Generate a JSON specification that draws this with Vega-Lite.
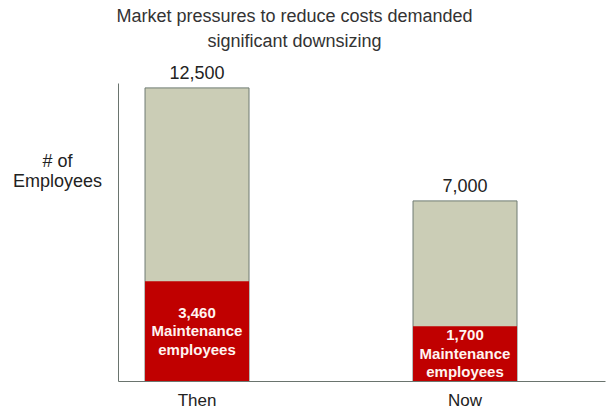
{
  "$schema": "https://vega.github.io/schema/vega-lite/v6.json",
  "width": 487,
  "height": 298,
  "autosize": {"type": "none"},
  "padding": {"left": 118, "top": 83, "right": 4, "bottom": 30},
  "background": "white",
  "config": {"font": "Liberation Sans", "view": {"stroke": null}},
  "title": {
    "text": ["Market pressures to reduce costs demanded", "significant downsizing"],
    "fontSize": 18,
    "fontWeight": "normal",
    "color": "#333333",
    "lineHeight": 25,
    "anchor": "middle",
    "dx": -67,
    "offset": 14
  },
  "data": {
    "values": [
      {"period": "Then", "total": 12500, "maintenance": 3460, "maintLabel": ["3,460", "Maintenance", "employees"]},
      {"period": "Now", "total": 7000, "maintenance": 1700, "maintLabel": ["1,700", "Maintenance", "employees"]}
    ]
  },
  "encoding": {
    "x": {
      "field": "period",
      "type": "nominal",
      "sort": ["Then", "Now"],
      "scale": {"paddingInner": 0.612, "paddingOuter": 0.2146, "align": 0.235},
      "axis": {
        "title": null,
        "ticks": false,
        "labelAngle": 0,
        "labelFontSize": 17,
        "labelColor": "#222222",
        "labelPadding": 11,
        "domainColor": "#6a746e"
      }
    }
  },
  "layer": [
    {
      "layer": [
        {
          "mark": {"type": "bar", "color": "#cbcdb6", "stroke": "#6f7b72", "strokeWidth": 1},
          "encoding": {
            "y": {
              "field": "total",
              "type": "quantitative",
              "scale": {"type": "pow", "exponent": 0.84, "domain": [0, 12750], "nice": false},
              "axis": {
                "title": ["# of", "Employees"],
                "titleAngle": 0,
                "titleAlign": "center",
                "titleBaseline": "middle",
                "titleX": -61,
                "titleY": 78,
                "titleFontSize": 18,
                "titleFontWeight": "normal",
                "titleColor": "#222222",
                "titleLineHeight": 20,
                "ticks": false,
                "labels": false,
                "grid": false,
                "domainColor": "#6a746e"
              }
            }
          }
        },
        {
          "mark": {"type": "bar", "color": "#c00000"},
          "encoding": {"y": {"field": "maintenance", "type": "quantitative"}}
        },
        {
          "mark": {"type": "text", "baseline": "bottom", "dy": -5, "fontSize": 18, "color": "#222222"},
          "encoding": {
            "y": {"field": "total", "type": "quantitative"},
            "text": {"field": "total", "type": "quantitative", "format": ","}
          }
        }
      ]
    },
    {
      "mark": {"type": "text", "baseline": "middle", "dy": -18.5, "fontSize": 15, "fontWeight": "bold", "color": "#fff4f0", "lineHeight": 18.5},
      "encoding": {
        "y": {
          "field": "maintenance",
          "type": "quantitative",
          "scale": {"type": "pow", "exponent": 0.84, "domain": [0, 29099], "nice": false},
          "axis": null
        },
        "text": {"field": "maintLabel", "type": "nominal"}
      }
    }
  ],
  "resolve": {"scale": {"y": "independent"}}
}
